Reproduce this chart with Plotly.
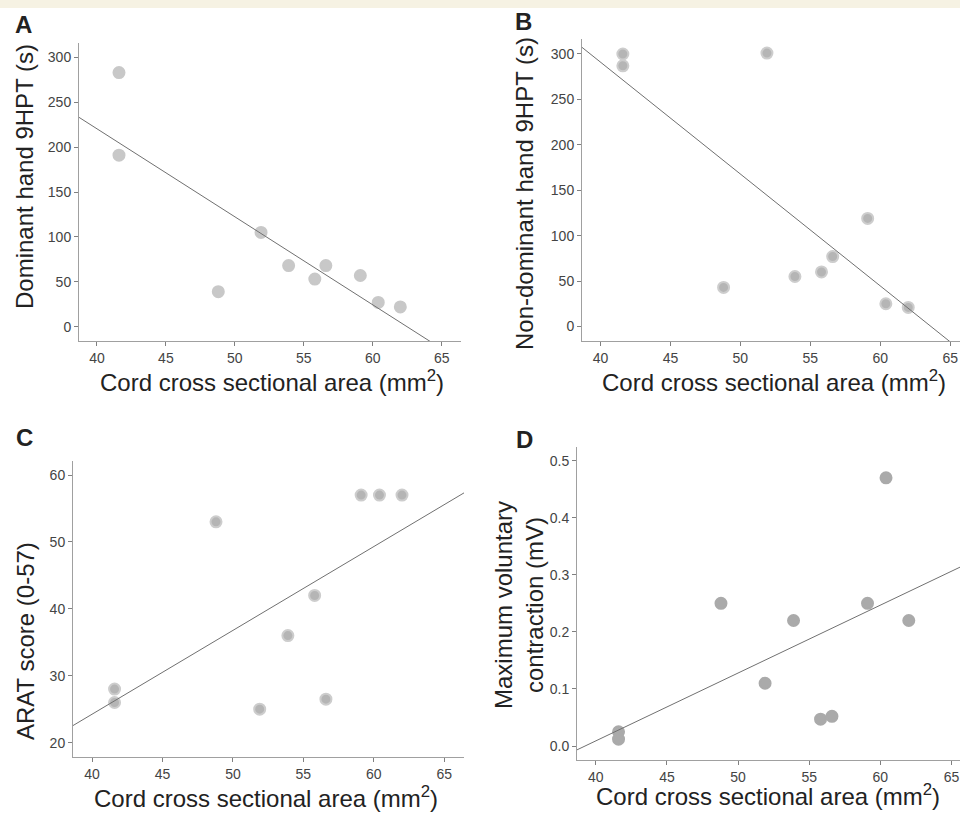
import numpy as np
import plotly.graph_objects as go

# ---- data ----
cord_area = [41.6, 41.6, 48.8, 51.9, 53.9, 55.8, 56.6, 59.1, 60.4, 62.0]
dominant_9hpt = [283, 191, 39, 105, 68, 53, 68, 57, 27, 22]
cord_area_b = [41.6, 41.6, 48.8, 51.9, 53.9, 55.8, 56.6, 59.1, 60.4, 62.0]
nondominant_9hpt = [300, 287, 43, 301, 55, 60, 77, 119, 25, 21]
arat_score = [28, 26, 53, 25, 36, 42, 26.5, 57, 57, 57]
mvc_mv = [0.025, 0.012, 0.25, 0.11, 0.22, 0.047, 0.052, 0.25, 0.47, 0.22]

x_ticks = [40, 45, 50, 55, 60, 65]
ticks_a = [0, 50, 100, 150, 200, 250, 300]
ticks_c = [20, 30, 40, 50, 60]
ticks_d = [0.0, 0.1, 0.2, 0.3, 0.4, 0.5]

W, H = 960, 815

def px_dom_x(a, b):
    return [a / W, b / W]

def px_dom_y(top, bottom):
    return [1 - bottom / H, 1 - top / H]

panels = [
    dict(x=cord_area, y=dominant_9hpt, xd=px_dom_x(79, 461), yd=px_dom_y(43, 341),
         xr=[38.7, 66.4], yr=[-16, 316], yt=ticks_a, fmt=None,
         mcolor="#c8c8c8", lcolor="#c8c8c8"),
    dict(x=cord_area_b, y=nondominant_9hpt, xd=px_dom_x(582, 960), yd=px_dom_y(39, 341),
         xr=[38.68, 65.7], yr=[-16, 316.5], yt=ticks_a, fmt=None,
         mcolor="#b5b5b5", lcolor="#cdcdcd"),
    dict(x=cord_area, y=arat_score, xd=px_dom_x(73, 464), yd=px_dom_y(461, 757),
         xr=[38.65, 66.4], yr=[17.85, 62.1], yt=ticks_c, fmt=None,
         mcolor="#b5b5b5", lcolor="#cdcdcd"),
    dict(x=cord_area, y=mvc_mv, xd=px_dom_x(577, 960), yd=px_dom_y(447, 760),
         xr=[38.68, 65.6], yr=[-0.0245, 0.524], yt=ticks_d, fmt=".1f",
         mcolor="#aaaaaa", lcolor="#aaaaaa"),
]

fig = go.Figure()
font_family = "Liberation Sans, Arial, sans-serif"

for i, p in enumerate(panels, start=1):
    xa = "x" if i == 1 else f"x{i}"
    ya = "y" if i == 1 else f"y{i}"
    fig.add_trace(go.Scatter(
        x=p["x"], y=p["y"], mode="markers", xaxis=xa, yaxis=ya,
        marker=dict(size=11, color=p["mcolor"], line=dict(color=p["lcolor"], width=2)),
        showlegend=False, hoverinfo="x+y"))
    slope, intercept = np.polyfit(p["x"], p["y"], 1)
    lx = np.array(p["xr"])
    fig.add_trace(go.Scatter(
        x=lx, y=slope * lx + intercept, mode="lines", xaxis=xa, yaxis=ya,
        line=dict(color="#707070", width=1), showlegend=False, hoverinfo="skip"))
    axis_common = dict(showline=True, linecolor="#a0a0a0", linewidth=1, ticks="outside",
                       ticklen=4, tickcolor="#808080", showgrid=False, zeroline=False,
                       tickfont=dict(family=font_family, size=14, color="#444444"))
    fig.layout[f"xaxis{'' if i == 1 else i}"] = dict(
        domain=p["xd"], range=p["xr"], anchor=ya, tickvals=x_ticks, **axis_common)
    fig.layout[f"yaxis{'' if i == 1 else i}"] = dict(
        domain=p["yd"], range=p["yr"], anchor=xa, tickvals=p["yt"],
        tickformat=p["fmt"], **axis_common)

annots = []
def add_text(text, x, y, size, angle=0, bold=False, xanchor="center", yanchor="middle"):
    annots.append(dict(text=f"<b>{text}</b>" if bold else text, x=x / W, y=1 - y / H,
                       xref="paper", yref="paper", showarrow=False, textangle=angle,
                       xanchor=xanchor, yanchor=yanchor,
                       font=dict(family=font_family, size=size, color="#222222")))

# panel letters
add_text("A", 23, 24, 24, bold=True)
add_text("B", 523, 22, 24, bold=True)
add_text("C", 24, 437, 24, bold=True)
add_text("D", 524, 439, 24, bold=True)
# x titles
xt = "Cord cross sectional area (mm<sup>2</sup>)"
add_text(xt, 272, 381, 24)
add_text(xt, 774, 381, 24)
add_text(xt, 266, 797, 24)
add_text(xt, 768, 795, 24)
# y titles
add_text("Dominant hand 9HPT (s)", 25, 177, 24, angle=-90)
add_text("Non-dominant hand 9HPT (s)", 525, 194, 24, angle=-90)
add_text("ARAT score (0-57)", 25, 641, 24, angle=-90)
add_text("Maximum voluntary<br>contraction (mV)", 519, 605, 24, angle=-90)

fig.update_layout(
    width=W, height=H, margin=dict(l=0, r=0, t=0, b=0),
    paper_bgcolor="white", plot_bgcolor="white",
    annotations=annots,
    shapes=[dict(type="rect", xref="paper", yref="paper", x0=0, x1=1,
                 y0=1 - 8 / H, y1=1, fillcolor="#f6f2e3", line=dict(width=0), layer="below")],
)

fig.write_html("out.html", config={"displayModeBar": False},
               post_script="document.body.style.margin='0';document.body.style.overflow='hidden';")
